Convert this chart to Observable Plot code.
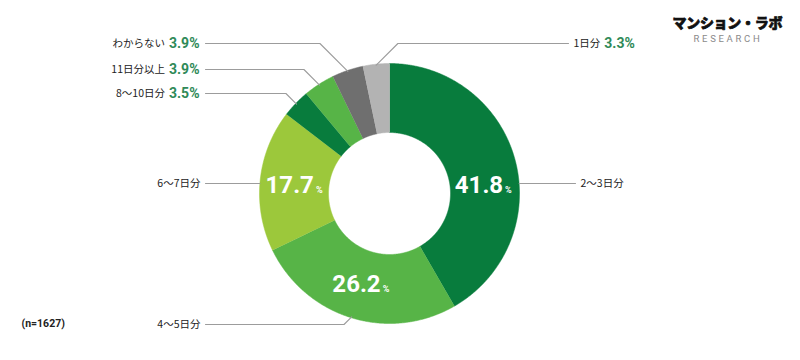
<!DOCTYPE html>
<html>
<head>
<meta charset="utf-8">
<script src="https://cdn.jsdelivr.net/npm/d3@7"></script>
<script src="https://cdn.jsdelivr.net/npm/@observablehq/plot@0.6"></script>
<style>
  html, body { margin: 0; padding: 0; background: #fff; }
  #chart { width: 800px; height: 360px; }
</style>
</head>
<body>
<div id="chart"></div>
<script>
// ---- data ----
const categories = ["2〜3日分", "4〜5日分", "6〜7日分", "8〜10日分", "11日分以上", "わからない", "1日分"];
const values = [41.8, 26.2, 17.7, 3.5, 3.9, 3.9, 3.3];
const sampleNote = "(n=1627)";
const logoTitle = "マンション・ラボ";
const logoSub = "RESEARCH";

// ---- styles / layout ----
const sliceColors = ["#087c3d", "#57b447", "#9cc83b", "#087c3d", "#57b447", "#6f6f6f", "#b3b3b3"];
const cx = 389, cy = 193, R = 130, R0 = 61, labelR = 95;
const labelLayout = {
  "わからない": {side: "left", y: 43},
  "11日分以上": {side: "left", y: 69},
  "8〜10日分": {side: "left", y: 93},
  "6〜7日分": {side: "left", y: 183},
  "4〜5日分": {side: "left", y: 324},
  "1日分": {side: "right", y: 43, x: 573},
  "2〜3日分": {side: "right", y: 183, x: 580}
};
const leftTextEnd = 199, leftLineStart = 205;
const catFont = '"Noto Sans CJK JP", "Noto Sans", sans-serif';
const catFontSize = 10.5;
const valFont = 'Roboto, "Noto Sans", sans-serif';
const valFontSize = 14;
const valColor = "#2f8a58";
const lineColor = "#9c9c9c";

const ctx = document.createElement("canvas").getContext("2d");
function tw(text, font) { ctx.font = font; return ctx.measureText(text).width; }
const fmt = v => d3.format(".1f")(v) + "%";

const total = d3.sum(values);
const TAU = Math.PI * 2;
const pt = (a, r) => [cx + r * Math.sin(a), cy - r * Math.cos(a)];

// slices
const slices = [];
let acc = 0;
categories.forEach((c, i) => {
  const a0 = acc / total * TAU;
  acc += values[i];
  const a1 = acc / total * TAU;
  slices.push({cat: c, value: values[i], a0, a1, mid: (a0 + a1) / 2});
});

// polygons
const polyPts = [];
for (const s of slices) {
  const n = Math.max(2, Math.ceil((s.a1 - s.a0) / (0.4 * Math.PI / 180)));
  for (let k = 0; k <= n; k++) {
    const [x, y] = pt(s.a0 + (s.a1 - s.a0) * k / n, R);
    polyPts.push({cat: s.cat, x, y});
  }
  for (let k = n; k >= 0; k--) {
    const [x, y] = pt(s.a0 + (s.a1 - s.a0) * k / n, R0);
    polyPts.push({cat: s.cat, x, y});
  }
}

// leader lines, outer labels, inner labels
const leaderPts = [];
const leftCats = [], rightCats = [], leftVals = [], rightVals = [];
const innerVals = [];
const contains = (s, a) => s.a0 <= a && a <= s.a1;
for (const s of slices) {
  const L = labelLayout[s.cat];
  const horizontal = contains(s, Math.PI / 2) || contains(s, 3 * Math.PI / 2);
  const dir = L.side === "left" ? -1 : 1;
  const lineOuter = L.side === "left" ? leftLineStart : L.x - 5;
  if (horizontal) {
    const ex = cx + dir * Math.sqrt(R * R - (L.y - cy) * (L.y - cy));
    leaderPts.push({cat: s.cat, x: lineOuter, y: L.y}, {cat: s.cat, x: ex, y: L.y});
  } else {
    const [ex, ey] = pt(s.mid, R - 1);
    const elbowX = ex + dir * Math.abs(ey - L.y);
    leaderPts.push({cat: s.cat, x: lineOuter, y: L.y}, {cat: s.cat, x: elbowX, y: L.y}, {cat: s.cat, x: ex, y: ey});
  }
  const outerValue = s.value < 10;
  const vText = fmt(s.value);
  const cFont = `${catFontSize}px ${catFont}`;
  const vFont = `bold ${valFontSize}px ${valFont}`;
  if (L.side === "left") {
    if (outerValue) {
      leftVals.push({x: leftTextEnd, y: L.y, text: vText});
      leftCats.push({x: leftTextEnd - tw(vText, vFont) - 4, y: L.y, text: s.cat});
    } else {
      leftCats.push({x: leftTextEnd + 1, y: L.y, text: s.cat});
    }
  } else {
    rightCats.push({x: L.x, y: L.y, text: s.cat});
    if (outerValue) rightVals.push({x: L.x + tw(s.cat, cFont) + 4, y: L.y, text: vText});
  }
  if (!outerValue) {
    let lx, ly;
    if (horizontal) {
      ly = L.y + 1.5;
      lx = cx + dir * Math.sqrt(labelR * labelR - (ly - cy) * (ly - cy));
    } else {
      [lx, ly] = pt(s.mid, labelR);
    }
    innerVals.push({x: lx, y: ly, num: d3.format(".1f")(s.value)});
  }
}

const chart = Plot.plot({
  width: 800,
  height: 360,
  margin: 0,
  x: {type: "linear", domain: [0, 800], range: [0, 800], axis: null},
  y: {type: "linear", domain: [0, 360], range: [0, 360], axis: null},
  color: {domain: categories, range: sliceColors},
  style: {background: "#fff"},
  marks: [
    Plot.line(polyPts, {x: "x", y: "y", z: "cat", fill: "cat", stroke: "cat", strokeWidth: 0.5, curve: "linear"}),
    Plot.line(leaderPts, {x: "x", y: "y", z: "cat", stroke: lineColor, strokeWidth: 1.1}),
    Plot.text(leftCats, {x: "x", y: "y", text: "text", textAnchor: "end", fontFamily: catFont, fontSize: catFontSize, fill: "#222"}),
    Plot.text(rightCats, {x: "x", y: "y", text: "text", textAnchor: "start", fontFamily: catFont, fontSize: catFontSize, fill: "#222"}),
    Plot.text(leftVals, {x: "x", y: "y", text: "text", textAnchor: "end", fontFamily: valFont, fontSize: valFontSize, fontWeight: 700, fill: valColor}),
    Plot.text(rightVals, {x: "x", y: "y", text: "text", textAnchor: "start", fontFamily: valFont, fontSize: valFontSize, fontWeight: 700, fill: valColor}),
    Plot.text(innerVals, {x: "x", y: "y", text: "num", textAnchor: "end", dx: 19, fontFamily: valFont, fontSize: 24, fontWeight: 700, fill: "#fff"}),
    Plot.text(innerVals, {x: "x", y: "y", text: () => "%", textAnchor: "start", dx: 21, dy: 4.8, fontFamily: valFont, fontSize: 9, fontWeight: 700, fill: "#fff"}),
    Plot.text([sampleNote], {x: () => 21, y: () => 323, text: d => d, textAnchor: "start", fontFamily: valFont, fontSize: 10.5, fontWeight: 700, fill: "#222"}),
    Plot.text([logoTitle], {x: () => 672, y: () => 23.5, text: d => d, textAnchor: "start", fontFamily: catFont, fontSize: 14, fontWeight: 900, fill: "#111", stroke: "#111", strokeWidth: 0.7}),
    Plot.text([logoSub], {x: () => 693, y: () => 38, text: d => d, textAnchor: "start", fontFamily: valFont, fontSize: 9.5, fill: "#8a8a8a"})
  ]
});
// letter spacing tweaks
d3.select(chart).selectAll("text")
  .filter(function() { return this.textContent === logoSub; })
  .style("letter-spacing", "2.7px");
d3.select(chart).selectAll("text")
  .filter(function() { return this.textContent === logoTitle; })
  .style("letter-spacing", "-0.3px");
document.getElementById("chart").appendChild(chart);
</script>
</body>
</html>
